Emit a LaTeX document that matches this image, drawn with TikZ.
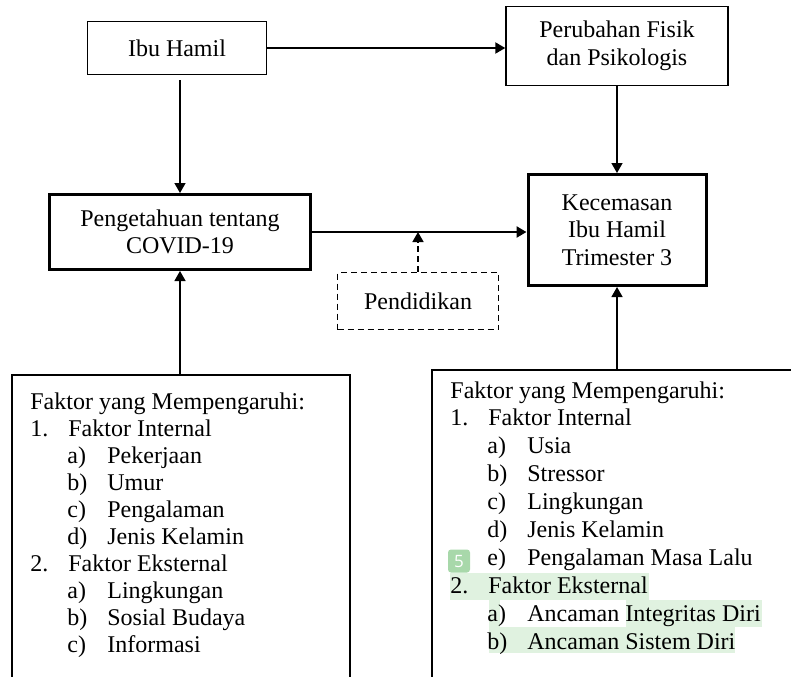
\documentclass[tikz,border=0pt]{standalone}
\usepackage{fontspec}
\setmainfont{Liberation Serif}
\newfontfamily\badgefont{Open Sans}
\usetikzlibrary{arrows.meta}
\usetikzlibrary{positioning}

\definecolor{hilite}{HTML}{E0F2E0}
\definecolor{badgegreen}{HTML}{A8D8AA}

% list lines: number / letter columns
\newcommand{\lnum}[2]{\makebox[19pt][l]{#1}#2}
\newcommand{\lsub}[2]{\hspace*{18.5pt}\makebox[20pt][l]{#1}#2}

\begin{document}
\begin{tikzpicture}[x=0.5pt, y=-0.5pt,
    >={Triangle[length=5pt,width=5.5pt]},
    every node/.style={font=\fontsize{12}{13.8}\selectfont, align=center},
    box/.style={draw, line width=0.7pt, inner sep=0pt},
    thickbox/.style={draw, line width=1.5pt, inner sep=0pt},
    dashbox/.style={draw, dash pattern=on 3pt off 2pt, line width=0.8pt, inner sep=0pt},
    listtext/.style={align=left, inner sep=0pt, anchor=north west}
  ]
  \clip (0,0) rectangle (791,676);

  \node[box, minimum width=89.5pt, minimum height=26.5pt] (ibu) at (177,48) {Ibu Hamil};
  \node[box, minimum width=111pt, minimum height=39.5pt] (ubah) at (617,46) {Perubahan Fisik\\dan Psikologis};
  \node[thickbox, minimum width=130.5pt, minimum height=37.5pt] (peng) at (180,232) {Pengetahuan tentang\\COVID-19};
  \node[thickbox, minimum width=89pt, minimum height=55.5pt] (kec) at (617,230) {Kecemasan\\Ibu Hamil\\Trimester 3};
  \node[dashbox, minimum width=80.5pt, minimum height=28.5pt] (pend) at (418,301) {Pendidikan};

  \node[box, minimum width=169pt, minimum height=172.5pt] (lbox) at (181,547.5) {};
  \node[box, minimum width=189pt, minimum height=175pt] (rbox) at (621,545) {};

  % highlight marks on the right list
  \fill[hilite] (450,573) rectangle (649,600);
  \fill[hilite] (489,600) rectangle (500,627);
  \fill[hilite] (626,600) rectangle (762,627);
  \fill[hilite] (489,627) rectangle (735,653);
  \node[fill=badgegreen, rounded corners=1.5pt, text=white, inner sep=0pt,
    minimum width=11pt, minimum height=11.5pt, font=\badgefont\fontsize{8.5}{9}\selectfont] (mark) at (459,561) {5};

  \node[listtext, font=\fontsize{12}{13.5}\selectfont] (llist) at (30,392) {%
    Faktor yang Mempengaruhi:\\
    \lnum{1.}{Faktor Internal}\\
    \lsub{a)}{Pekerjaan}\\
    \lsub{b)}{Umur}\\
    \lsub{c)}{Pengalaman}\\
    \lsub{d)}{Jenis Kelamin}\\
    \lnum{2.}{Faktor Eksternal}\\
    \lsub{a)}{Lingkungan}\\
    \lsub{b)}{Sosial Budaya}\\
    \lsub{c)}{Informasi}};
  \node[listtext, font=\fontsize{12}{13.95}\selectfont] (rlist) at (450,381) {%
    Faktor yang Mempengaruhi:\\
    \lnum{1.}{Faktor Internal}\\
    \lsub{a)}{Usia}\\
    \lsub{b)}{Stressor}\\
    \lsub{c)}{Lingkungan}\\
    \lsub{d)}{Jenis Kelamin}\\
    \lsub{e)}{Pengalaman Masa Lalu}\\
    \lnum{2.}{Faktor Eksternal}\\
    \lsub{a)}{Ancaman Integritas Diri}\\
    \lsub{b)}{Ancaman Sistem Diri}};

  \draw[->, line width=1pt] (ibu.east) -- (ibu.east -| ubah.west);
  \draw[->, line width=0.7pt] ([yshift=-2.5pt]ibu.south -| peng.north) -- (peng.north);
  \draw[->, line width=0.7pt] (ubah.south) -- (kec.north);
  \draw[->, line width=1.2pt] (peng.east) -- (peng.east -| kec.west);
  \draw[->, dash pattern=on 3pt off 2pt, line width=0.8pt] (pend.north) -- (pend.north |- peng.east);
  \draw[->, line width=0.7pt] (lbox.north -| peng.south) -- (peng.south);
  \draw[->, line width=0.7pt] (rbox.north -| kec.south) -- (kec.south);
\end{tikzpicture}
\end{document}
